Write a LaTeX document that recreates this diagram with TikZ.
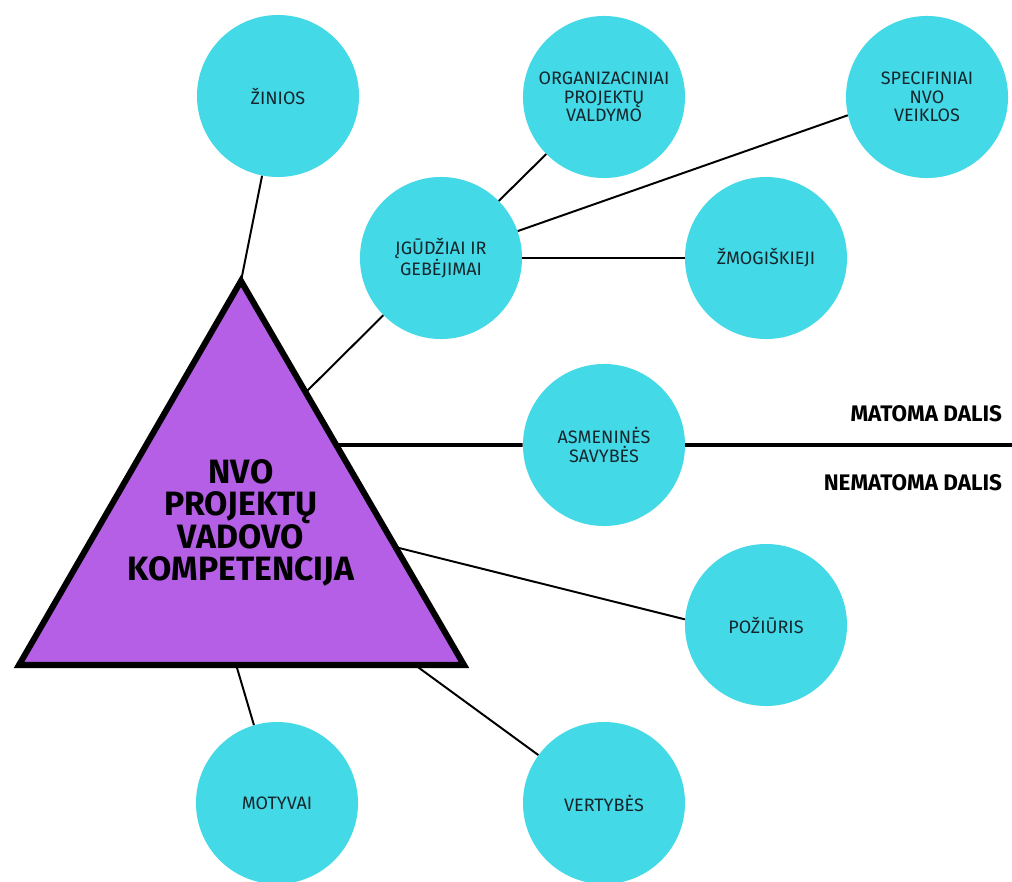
\documentclass[tikz,border=0pt]{standalone}
\usepackage{fontspec}
\setmainfont{Fira Sans}
\usetikzlibrary{calc}
\definecolor{bubblecyan}{HTML}{44D9E6}
\definecolor{pyramidpurple}{HTML}{B55FE6}
\definecolor{labelink}{HTML}{16262D}

\begin{document}
\begin{tikzpicture}[x=0.025cm, y=-0.025cm,
  every node/.style={font=\fontsize{12.8}{13.2}\selectfont, text=labelink, align=center},
  bubble/.style={circle, fill=bubblecyan, minimum size=4.05cm, inner sep=0pt},
  link/.style={line width=1.4pt},
  divider/.style={line width=2.8pt},
  sidelabel/.style={font=\bfseries\fontsize{16}{17}\selectfont, text=black, anchor=east}]
\path[fill=white, use as bounding box] (0,0) rectangle (1012,881);
% triangle corners and points on its edges
\coordinate (apex) at (241,281);
\coordinate (left) at (19,665);
\coordinate (right) at (464,665);
\coordinate (edgeSkills) at ($(apex)!0.29!(right)$);
\coordinate (edgeLine) at ($(apex)!0.427!(right)$);
\coordinate (edgeAttitude) at ($(apex)!0.693!(right)$);
\coordinate (baseMotives) at ($(left)!0.488!(right)$);
\coordinate (baseValues) at ($(left)!0.89!(right)$);
\coordinate (lineend) at (1012,445);

% circles
\node[bubble] (zinios) at (278,96) {ŽINIOS};
\node[bubble] (org) at (604,97) {ORGANIZACINIAI\\PROJEKTŲ\\VALDYMO};
\node[bubble] (spec) at (927,97) {SPECIFINIAI\\NVO\\VEIKLOS};
\node[bubble] (skills) at (441,258) {ĮGŪDŽIAI IR\\GEBĖJIMAI};
\node[bubble] (human) at (766,258) {ŽMOGIŠKIEJI};
\node[bubble] (personal) at (604,445) {ASMENINĖS\\SAVYBĖS};
\node[bubble] (attitude) at (766,625) {POŽIŪRIS};
\node[bubble] (motives) at (277,803) {MOTYVAI};
\node[bubble] (values) at (604,803) {VERTYBĖS};

% connectors
\draw[link] (zinios) -- (apex);
\draw[link] (skills) -- (edgeSkills);
\draw[link] (skills) -- (org);
\draw[link] (skills) -- (spec.193);
\draw[link] (skills) -- (human);
\draw[link] (edgeAttitude) -- (attitude.176);
\draw[link] (baseMotives) -- (motives);
\draw[link] (baseValues) -- (values);
\draw[divider] (edgeLine) -- (personal);
\draw[divider] (personal) -- (lineend);

% triangle
\draw[line width=4.3pt, fill=pyramidpurple] (apex) -- (right) -- (left) -- cycle;
\node[font=\bfseries\fontsize{24}{23}\selectfont, text=black] (title) at (241,523) {NVO\\PROJEKTŲ\\VADOVO\\KOMPETENCIJA};

% labels of the dividing line
\node[sidelabel] (visible) at (1007,414) {MATOMA DALIS};
\node[sidelabel] (hidden) at (1007,483) {NEMATOMA DALIS};
\end{tikzpicture}
\end{document}
